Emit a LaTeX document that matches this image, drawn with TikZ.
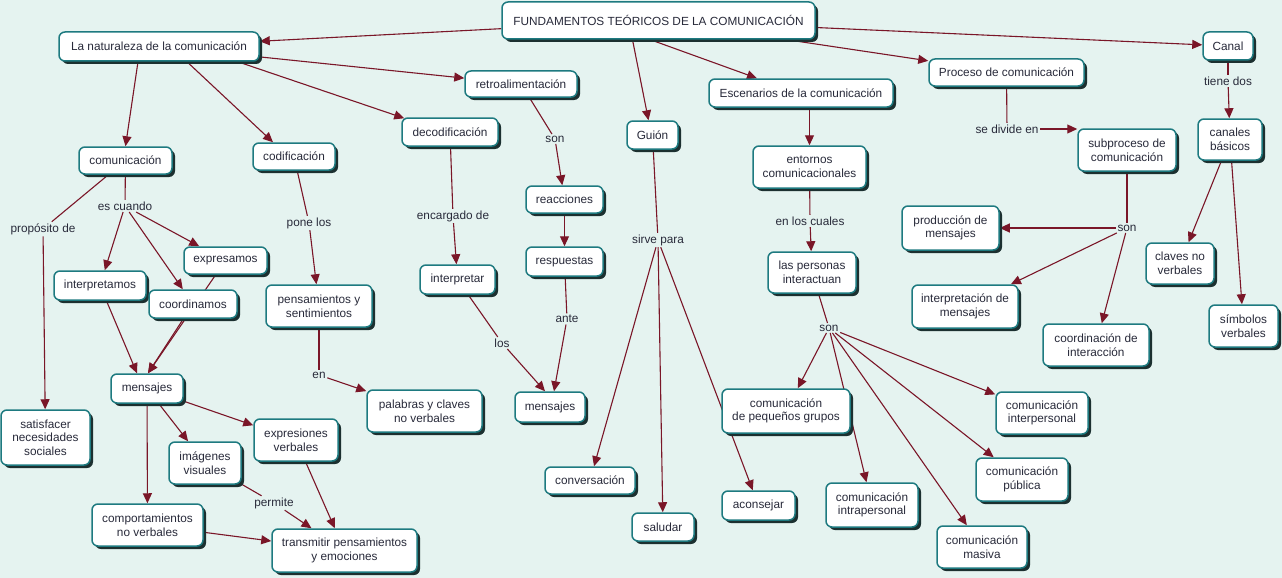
\documentclass[tikz,border=0pt]{standalone}
\usepackage{fontspec}
\setmainfont{Liberation Sans}
\usetikzlibrary{arrows.meta,shadows,calc}
\definecolor{bgcol}{RGB}{229,243,240}
\definecolor{bordcol}{RGB}{30,122,128}
\definecolor{shcol}{RGB}{28,48,48}
\definecolor{edgecol}{RGB}{122,22,40}
\definecolor{txtcol}{RGB}{40,42,58}
\pgfdeclarelayer{back}
\pgfdeclarelayer{edgelayer}
\pgfsetlayers{back,edgelayer,main}
\begin{document}
\begin{tikzpicture}[x=1pt,y=-1pt,
  cbox/.style={draw=bordcol, line width=1.5pt, fill=white, rounded corners=6pt,
    align=center, inner sep=0pt, text=txtcol,
    font=\fontsize{11.8}{13.7}\selectfont,
    drop shadow={shadow xshift=3pt, shadow yshift=-3pt, opacity=1, fill=shcol}},
  sz/.style 2 args={minimum width=#1pt, minimum height=#2pt},
  lbl/.style={inner sep=1.5pt, text=txtcol, font=\fontsize{11.8}{13.7}\selectfont},
  ln/.style={draw=edgecol, line width=1.1pt},
  arr/.style={draw=edgecol, line width=1.1pt, -{Triangle[length=10pt,width=9pt]}}]
\begin{pgfonlayer}{back}
\fill[bgcol] (0,0) rectangle (1282,578);
\end{pgfonlayer}
\useasboundingbox (0,0) rectangle (1282,578);

% nodes
\node[cbox, sz={313}{37}] (fund) at (658.5,20.5) {FUNDAMENTOS TEÓRICOS DE LA COMUNICACIÓN};
\node[cbox, sz={200}{29}] (nat) at (159,46.5) {La naturaleza de la comunicación};
\node[cbox, sz={50}{28}] (canal) at (1228,46) {Canal};
\node[cbox, sz={155}{27}] (proceso) at (1006.5,72.5) {Proceso de comunicación};
\node[cbox, sz={112}{26}] (retro) at (521,84) {retroalimentación};
\node[cbox, sz={96}{28}] (decod) at (450,132) {decodificación};
\node[cbox, sz={82}{27}] (codif) at (294,156.5) {codificación};
\node[cbox, sz={93}{27}] (comun) at (125.5,160.5) {comunicación};
\node[cbox, sz={51}{28}] (guion) at (652.5,135) {Guión};
\node[cbox, sz={184}{28}] (escen) at (801,93) {Escenarios de la comunicación};
\node[cbox, sz={113}{42}] (entornos) at (809.5,167) {entornos\\comunicacionales};
\node[cbox, sz={88}{41}] (personas) at (812,272.5) {las personas\\interactuan};
\node[cbox, sz={98}{42}] (subproc) at (1127,150) {subproceso de\\comunicación};
\node[cbox, sz={64}{41}] (canalesb) at (1230,139.5) {canales\\básicos};
\node[cbox, sz={97}{44}] (produccion) at (950.5,228) {producción de\\mensajes};
\node[cbox, sz={68}{41}] (clavesnv) at (1180,263.5) {claves no\\verbales};
\node[cbox, sz={106}{43}] (interpmens) at (965,306.5) {interpretación de\\mensajes};
\node[cbox, sz={69}{42}] (simbolos) at (1243.5,326) {símbolos\\verbales};
\node[cbox, sz={106}{42}] (coordint) at (1096,345) {coordinación de\\interacción};
\node[cbox, sz={92}{29}] (interpretamos) at (100,285.5) {interpretamos};
\node[cbox, sz={83}{27}] (expresamos) at (225.5,260.5) {expresamos};
\node[cbox, sz={88}{28}] (coordinamos) at (193,304) {coordinamos};
\node[cbox, sz={106}{42}] (pensam) at (319,306) {pensamientos y\\sentimientos};
\node[cbox, sz={75}{29}] (interpretar) at (457.5,279.5) {interpretar};
\node[cbox, sz={77}{27}] (reacciones) at (564.5,199.5) {reacciones};
\node[cbox, sz={77}{29}] (respuestas) at (564.5,261.5) {respuestas};
\node[cbox, sz={70}{30}] (mensajesM) at (550,407) {mensajes};
\node[cbox, sz={115}{42}] (palabras) at (424.5,411) {palabras y claves\\no verbales};
\node[cbox, sz={72}{29}] (mensajesL) at (147,388.5) {mensajes};
\node[cbox, sz={89}{55}] (satisf) at (45.5,437.5) {satisfacer\\necesidades\\sociales};
\node[cbox, sz={72}{42}] (imagenes) at (205,463) {imágenes\\visuales};
\node[cbox, sz={84}{42}] (expresiones) at (296,440) {expresiones\\verbales};
\node[cbox, sz={111}{42}] (comport) at (147.5,525) {comportamientos\\no verbales};
\node[cbox, sz={145}{43}] (transmitir) at (344.5,550.5) {transmitir pensamientos\\y emociones};
\node[cbox, sz={90}{27}] (conversacion) at (590,480.5) {conversación};
\node[cbox, sz={62}{28}] (saludar) at (663,527) {saludar};
\node[cbox, sz={73}{29}] (aconsejar) at (758.5,505.5) {aconsejar};
\node[cbox, sz={128}{44}] (pequenos) at (786,411) {comunicación\\de pequeños grupos};
\node[cbox, sz={92}{44}] (intrap) at (872,505) {comunicación\\intrapersonal};
\node[cbox, sz={90}{42}] (masiva) at (982,547) {comunicación\\masiva};
\node[cbox, sz={92}{43}] (publica) at (1022,479.5) {comunicación\\pública};
\node[cbox, sz={92}{42}] (interpers) at (1042,413) {comunicación\\interpersonal};

% linking phrases
\node[lbl] (escuando) at (125,206) {es cuando};
\node[lbl] (proposito) at (43,229) {propósito de};
\node[lbl] (ponelos) at (309,223) {pone los};
\node[lbl] (encargado) at (453,216) {encargado de};
\node[lbl] (sonR) at (555,139) {son};
\node[lbl] (sirve) at (658,240) {sirve para};
\node[lbl] (enloscuales) at (810,221) {en los cuales};
\node[lbl] (sediv) at (1007,129) {se divide en};
\node[lbl] (tiene) at (1228,81) {tiene dos};
\node[lbl] (sonS) at (1127,228) {son};
\node[lbl] (sonP) at (829,328) {son};
\node[lbl] (ante) at (567,319) {ante};
\node[lbl] (los) at (502,343) {los};
\node[lbl] (en) at (319,375) {en};
\node[lbl] (permite) at (274,503) {permite};

\begin{pgfonlayer}{edgelayer}
\draw[arr] (fund) -- (nat);
\draw[arr] ([xshift=-26pt]fund.south) -- ([xshift=-4pt]guion.north);
\draw[arr] ([xshift=-8pt]fund.south) -- ([xshift=-44pt]escen.north);
\draw[arr] (fund) -- (proceso);
\draw[arr] (fund) -- (canal);

\draw[arr] ([xshift=-21pt]nat.south) -- (comun.north);
\draw[arr] ([xshift=28pt]nat.south) -- ([xshift=-21pt]codif.north);
\draw[arr] ([xshift=-22pt]nat.south east) -- ([xshift=3pt,yshift=-1pt]decod.north west);
\draw[arr] (nat) -- (retro);

\draw[ln] (comun) -- (escuando);
\draw[arr] (escuando) -- (interpretamos);
\draw[arr] (escuando) -- (coordinamos);
\draw[arr] (escuando) -- (expresamos);
\draw[ln] (comun) -- (proposito);
\draw[arr] (proposito) -- (satisf);
\draw[arr] (interpretamos) -- ([xshift=-10pt]mensajesL.north);
\draw[arr] (coordinamos) -- ([xshift=1pt]mensajesL.north);
\draw[arr] (expresamos) -- ([xshift=1pt]mensajesL.north);
\draw[arr] (mensajesL) -- (imagenes);
\draw[arr] (mensajesL) -- (expresiones);
\draw[arr] (mensajesL) -- (comport);
\draw[ln] (imagenes) -- (permite);
\draw[arr] (permite) -- (transmitir);
\draw[arr] (expresiones) -- (transmitir);
\draw[arr] (comport) -- (transmitir);

\draw[ln] (codif) -- (ponelos);
\draw[arr] (ponelos) -- (pensam);
\draw[ln] (pensam) -- (en);
\draw[arr] (en) -- (palabras);

\draw[ln] (decod) -- (encargado);
\draw[arr] (encargado) -- (interpretar);
\draw[ln] (interpretar) -- (los);
\draw[arr] (los) -- ([xshift=-5pt]mensajesM.north);

\draw[ln] (retro) -- (sonR);
\draw[arr] (sonR) -- (reacciones);
\draw[arr] (reacciones) -- (respuestas);
\draw[ln] (respuestas) -- (ante);
\draw[arr] (ante) -- ([xshift=4pt]mensajesM.north);

\draw[ln] (guion) -- (sirve);
\draw[arr] (sirve) -- (conversacion);
\draw[arr] (sirve) -- (saludar);
\draw[arr] (sirve) -- (aconsejar);

\draw[arr] (entornos.north |- escen.south) -- (entornos.north);
\draw[ln] (entornos) -- (enloscuales);
\draw[arr] (enloscuales) -- (personas);
\draw[ln] (personas) -- (sonP);
\draw[arr] (sonP) -- (pequenos);
\draw[arr] (sonP) -- (intrap);
\draw[arr] (sonP) -- (masiva);
\draw[arr] (sonP) -- (publica);
\draw[arr] (sonP) -- (interpers);

\draw[ln] (proceso) -- (sediv);
\draw[arr] (sediv.east) -- (sediv.east -| subproc.west);
\draw[ln] (subproc) -- (sonS);
\draw[arr] (sonS) -- (produccion);
\draw[arr] (sonS) -- (interpmens);
\draw[arr] (sonS) -- (coordint);

\draw[ln] (canal) -- (tiene);
\draw[arr] (tiene) -- (canalesb);
\draw[arr] (canalesb) -- (clavesnv);
\draw[arr] (canalesb) -- (simbolos);
\end{pgfonlayer}
\end{tikzpicture}
\end{document}
